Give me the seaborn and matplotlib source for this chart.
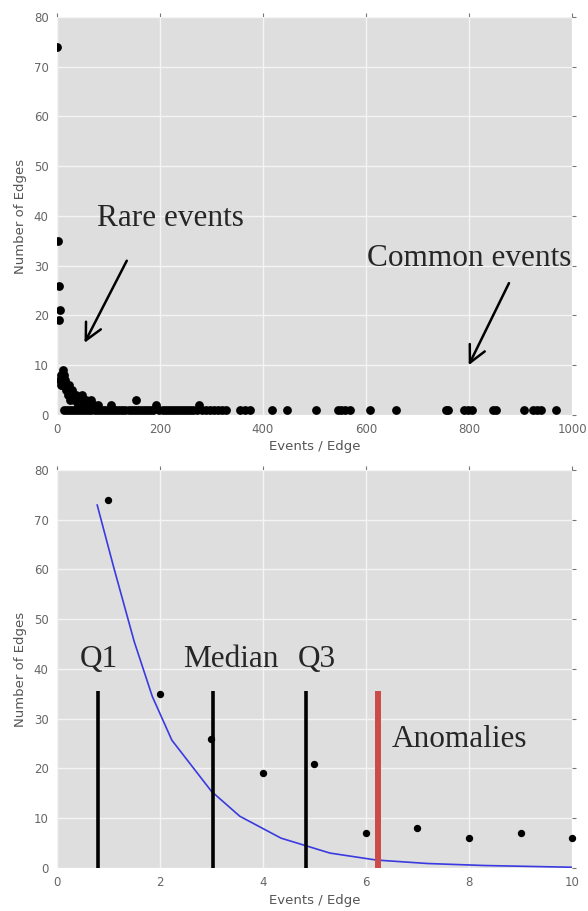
import matplotlib
matplotlib.use("Agg")
import matplotlib.pyplot as plt
import seaborn as sns
import pandas as pd

# ---- full range: how many edges carry a given number of events ----
events_low = [1, 2, 3, 4, 5, 6, 7, 8, 9, 10]
edges_low = [74, 35, 26, 19, 21, 7, 8, 6, 7, 6]

events_mid = [11, 12, 13, 14, 15, 16, 17, 18, 20, 22, 24, 26, 28, 30, 33, 36,
              40, 44, 48, 52, 57, 62, 67, 72, 80, 104, 153, 193, 276]
edges_mid = [9, 8, 7, 8, 6, 7, 5, 6, 5, 4, 6, 3, 4, 5, 3, 4,
             2, 3, 4, 2, 3, 2, 3, 2, 2, 2, 3, 2, 2]

events_single = [14, 19, 25, 31, 37, 43, 49, 55, 61, 67, 73, 79, 85, 91, 97, 103,
                 109, 115, 121, 127, 133, 139, 145, 151, 157, 163, 169, 175, 181,
                 187, 199, 205, 211, 217, 223, 229, 235, 241, 247, 253, 259, 265,
                 271, 281, 290, 297, 304, 312, 320, 328, 355, 365, 375, 417, 446,
                 503, 545, 552, 560, 568, 608, 658, 755, 760, 791, 799, 805, 847,
                 852, 907, 925, 932, 939, 969]
edges_single = [1] * len(events_single)

# ---- zoomed view: first ten bins with fitted decay ----
zoom_events = [1, 2, 3, 4, 5, 6, 7, 8, 9, 10]
zoom_edges = [74, 35, 26, 19, 21, 7, 8, 6, 7, 6]
fit_x = [0.78, 1.1, 1.5, 1.85, 2.23, 3.0, 3.55, 4.35, 5.3, 6.2, 7.2, 8.3, 10.0]
fit_y = [73, 60.5, 45.5, 34.5, 25.7, 15.4, 10.4, 6.0, 3.0, 1.6, 0.9, 0.5, 0.15]

quartiles = [0.8, 3.02, 4.83]
quartile_names = ["Q1", "Median", "Q3"]
anomaly_cut = 6.23
marker_top = 35.5

full = pd.DataFrame({
    "events": events_low + events_mid + events_single,
    "edges": edges_low + edges_mid + edges_single,
})
zoom = pd.DataFrame({"events": zoom_events, "edges": zoom_edges})
fit = pd.DataFrame({"x": fit_x, "y": fit_y})

sns.set_theme(style="darkgrid")
plt.rcParams.update({
    "font.family": ["DejaVu Sans"],
    "axes.facecolor": "#DEDEDE",
    "axes.edgecolor": "#DEDEDE",
    "grid.color": "#F4F4F4",
    "grid.linewidth": 1.0,
    "xtick.color": "#777777",
    "ytick.color": "#777777",
    "xtick.labelcolor": "#666666",
    "ytick.labelcolor": "#666666",
    "axes.labelcolor": "#555555",
})

fig = plt.figure(figsize=(5.88, 9.11), dpi=100)
ax1 = fig.add_axes([0.0969, 0.5445, 0.8759, 0.4369])
ax2 = fig.add_axes([0.0969, 0.0472, 0.8759, 0.4369])

serif = "Liberation Serif"


def style_axes(ax, xmax):
    ax.set_xlim(0, xmax)
    ax.set_ylim(0, 80)
    ax.set_yticks(range(0, 81, 10))
    for s in ax.spines.values():
        s.set_visible(False)
    ax.tick_params(axis="both", which="major", direction="out", length=3,
                   width=0.8, labelsize=8.5, pad=3, top=True, right=True,
                   labeltop=False, labelright=False)
    ax.set_xlabel("Events / Edge", fontsize=9.5, labelpad=3)
    ax.set_ylabel("Number of Edges", fontsize=9.5, labelpad=5)
    ax.set_axisbelow(True)


# top panel: full range
sns.scatterplot(data=full, x="events", y="edges", ax=ax1, color="black",
                s=40, linewidth=0, legend=False)
style_axes(ax1, 1000)
ax1.set_xticks(range(0, 1001, 200))

ax1.text(77, 38, "Rare events", family=serif, fontsize=22.5, va="baseline")
ax1.text(601, 30, "Common events", family=serif, fontsize=22.5, va="baseline")
arrow = dict(arrowstyle="->", color="black", lw=1.8, mutation_scale=30)
ax1.annotate("", xy=(51, 14), xytext=(138, 31.5), arrowprops=arrow)
ax1.annotate("", xy=(797, 9.5), xytext=(880, 27), arrowprops=arrow)

# bottom panel: zoom on the first bins
sns.lineplot(data=fit, x="x", y="y", ax=ax2, sort=False, color="#3a3ae0",
             linewidth=1.2, legend=False)
ax2.vlines(quartiles, 0, marker_top, colors="black", linewidth=2.6, zorder=3)
ax2.vlines([anomaly_cut], 0, marker_top, colors="#cc4a48", linewidth=4.3,
           zorder=3)
sns.scatterplot(data=zoom, x="events", y="edges", ax=ax2, color="black",
                s=28, linewidth=0, legend=False, zorder=4, clip_on=False)
style_axes(ax2, 10)
ax2.set_xticks(range(0, 11, 2))

label_x = [0.45, 2.45, 4.67]
for lx, name in zip(label_x, quartile_names):
    ax2.text(lx, 40.4, name, family=serif, fontsize=22.5, va="baseline")
ax2.text(6.5, 24.4, "Anomalies", family=serif, fontsize=22.5, va="baseline")

fig.savefig("out.png", dpi=100)
